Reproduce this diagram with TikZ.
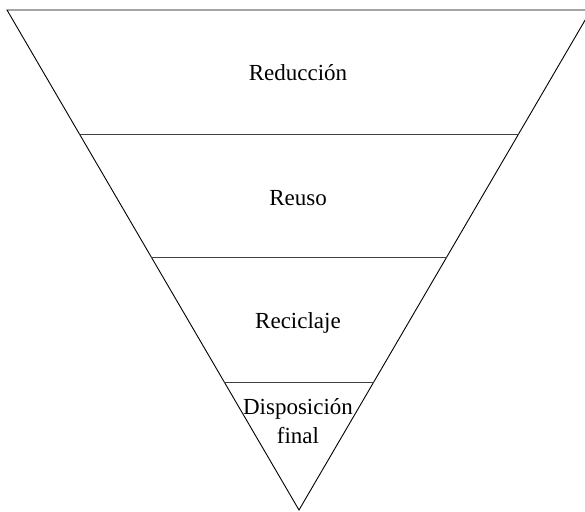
\documentclass[tikz,border=0pt]{standalone}
\usepackage{fontspec}
\setmainfont{Liberation Serif}
\begin{document}
\begin{tikzpicture}[x=1pt,y=-1pt,
  edge/.style={line width=0.9pt,black},
  band/.style={line width=0.9pt,black!75},
  lbl/.style={font=\fontsize{23}{27}\selectfont,align=center,inner sep=0pt}]
  \useasboundingbox (0,0) rectangle (585,511);
  % corners of the inverted triangle
  \coordinate (tl) at (7,10);
  \coordinate (tr) at (591,10);
  \coordinate (bt) at (299,510);
  \draw[edge,line join=miter] (tl) -- (tr) -- (bt) -- cycle;
  % band boundaries
  \coordinate (a1) at (79.4,134);  \coordinate (a2) at (518.6,134);
  \coordinate (b1) at (151.2,257); \coordinate (b2) at (446.8,257);
  \coordinate (c1) at (224.2,382); \coordinate (c2) at (373.8,382);
  \draw[band] (a1) -- (a2);
  \draw[band] (b1) -- (b2);
  \draw[band] (c1) -- (c2);
  % level labels
  \node[lbl] (reduccion) at (298,73) {Reducción};
  \node[lbl] (reuso) at (298,198) {Reuso};
  \node[lbl] (reciclaje) at (298,323) {Reciclaje};
  \node[lbl,font=\fontsize{23}{29}\selectfont] (disposicion) at (298,421) {Disposición\\final};
\end{tikzpicture}
\end{document}
